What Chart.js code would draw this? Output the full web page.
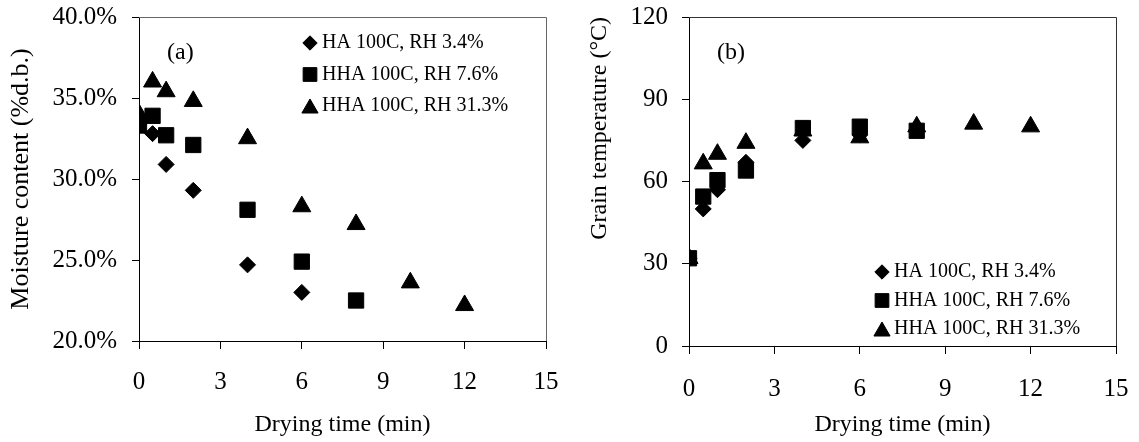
<!DOCTYPE html>
<html>
<head>
<meta charset="utf-8">
<script src="https://cdn.jsdelivr.net/npm/chart.js@4/dist/chart.umd.min.js"></script>
<style>
  body { margin: 0; background: #fff; }
  .panel { position: absolute; top: 0; height: 442px; }
  #boxA { left: 0; width: 560px; }
  #boxB { left: 560px; width: 579px; }
</style>
</head>
<body>
<div class="panel" id="boxA"><canvas id="moistureChart"></canvas></div>
<div class="panel" id="boxB"><canvas id="tempChart"></canvas></div>
<script>
// drying time (min) for each treatment
const timeHA = [0, 0.5, 1, 2, 4, 6];
const timeHHA76 = [0, 0.5, 1, 2, 4, 6, 8];
const timeHHA313 = [0, 0.5, 1, 2, 4, 6, 8, 10, 12];

// (a) moisture content, % d.b.
const moistHA = [33.4, 32.8, 30.9, 29.3, 24.7, 23.0];
const moistHHA76 = [33.3, 33.9, 32.7, 32.1, 28.1, 24.9, 22.5];
const moistHHA313 = [34.0, 36.0, 35.4, 34.8, 32.5, 28.3, 27.2, 23.6, 22.2];

// (b) grain temperature, C
const tempHA = [32, 50, 57, 67, 75, 77];
const tempHHA76 = [32, 54.5, 60.5, 64, 79.5, 80, 78.5];
const tempHHA313 = [32, 66.5, 70, 74, 78.5, 76, 80, 81, 80];

const seriesNames = ['HA 100C, RH 3.4%', 'HHA 100C, RH 7.6%', 'HHA 100C, RH 31.3%'];
const xTicks = [0, 3, 6, 9, 12, 15];

const serif = '"Liberation Serif", "Times New Roman", serif';

function toPoints(xs, ys) {
  return xs.map((x, i) => ({ x: x, y: ys[i] }));
}

function makeDatasets(ha, hha76, hha313) {
  return [
    { label: seriesNames[0], data: toPoints(timeHA, ha), pointStyle: 'rectRot', pointRadius: 8, order: 1 },
    { label: seriesNames[1], data: toPoints(timeHHA76, hha76), pointStyle: 'rect', pointRadius: 10.8, order: 0 },
    { label: seriesNames[2], data: toPoints(timeHHA313, hha313), pointStyle: 'triangle', pointRadius: 10.4, order: 2 }
  ].map(ds => Object.assign(ds, {
    backgroundColor: '#000',
    borderColor: '#000',
    borderWidth: 1,
    showLine: false
  }));
}

// plot box, legend and panel letter
const extras = {
  id: 'extras',
  afterDraw(chart, args, opts) {
    const ctx = chart.ctx;
    const a = chart.chartArea;
    ctx.save();
    ctx.strokeStyle = opts.boxColor;
    ctx.lineWidth = 1;
    ctx.beginPath();
    ctx.moveTo(Math.round(a.left), Math.round(a.top) + 0.5);
    ctx.lineTo(Math.round(a.right) + 0.5, Math.round(a.top) + 0.5);
    ctx.lineTo(Math.round(a.right) + 0.5, Math.round(a.bottom));
    ctx.stroke();

    ctx.fillStyle = '#000';
    ctx.strokeStyle = '#000';
    ctx.textBaseline = 'middle';
    ctx.textAlign = 'left';
    ctx.font = '20px ' + serif;
    chart.data.datasets.forEach((ds, i) => {
      const y = opts.legendY + i * opts.rowGap;
      const r = ds.pointRadius * 0.9;
      const dy = ds.pointStyle === 'triangle' ? r / 4 : 0;
      Chart.helpers.drawPoint(ctx, { pointStyle: ds.pointStyle, radius: r, borderWidth: 1, rotation: 0 }, opts.legendX, y + dy);
      ctx.fillText(ds.label, opts.legendX + 12, y);
    });

    ctx.font = '24px ' + serif;
    ctx.fillText(opts.label, opts.labelX, opts.labelY);
    ctx.restore();
  }
};

function makeChart(canvasId, datasets, cfg) {
  return new Chart(document.getElementById(canvasId), {
    type: 'scatter',
    data: { datasets: datasets },
    plugins: [extras],
    options: {
      responsive: true,
      maintainAspectRatio: false,
      animation: false,
      events: [],
      layout: { padding: { top: 17, right: cfg.rightPad, left: 0, bottom: 0 } },
      plugins: {
        legend: { display: false },
        tooltip: { enabled: false },
        extras: cfg.extras
      },
      scales: {
        x: {
          type: 'linear',
          min: 0,
          max: 15,
          afterBuildTicks: scale => { scale.ticks = xTicks.map(v => ({ value: v })); },
          afterFit: scale => {
            scale.height = cfg.xHeight;
            scale.paddingLeft = 0;
            scale.paddingRight = 0;
          },
          grid: { drawOnChartArea: false, color: '#000', tickLength: 8 },
          border: { color: '#000', width: 1 },
          ticks: { color: '#000', padding: cfg.xTickPad, maxRotation: 0, font: { family: serif, size: 25 } },
          title: {
            display: true,
            text: 'Drying time (min)',
            color: '#000',
            font: { family: serif, size: 24 },
            padding: { top: 0, bottom: 3 }
          }
        },
        y: {
          min: cfg.yMin,
          max: cfg.yMax,
          afterFit: scale => {
            scale.width = cfg.yWidth;
            scale.paddingTop = 0;
            scale.paddingBottom = 0;
          },
          grid: { drawOnChartArea: false, color: '#000', tickLength: 7 },
          border: { color: '#000', width: 1 },
          ticks: {
            stepSize: cfg.yStep,
            color: '#000',
            padding: cfg.yTickPad,
            font: { family: serif, size: 25 },
            callback: cfg.yFormat
          },
          title: {
            display: true,
            text: cfg.yTitle,
            align: cfg.yTitleAlign,
            color: '#000',
            font: { family: serif, size: cfg.yTitleSize },
            padding: { top: cfg.yTitlePad, bottom: 0 }
          }
        }
      }
    }
  });
}

makeChart('moistureChart', makeDatasets(moistHA, moistHHA76, moistHHA313), {
  rightPad: 14,
  xHeight: 101,
  xTickPad: 18,
  yMin: 20, yMax: 40, yStep: 5,
  yWidth: 139,
  yTickPad: 15,
  yFormat: v => v.toFixed(1) + '%',
  yTitle: 'Moisture content (%d.b.)',
  yTitleAlign: 'center',
  yTitleSize: 26,
  yTitlePad: 6,
  extras: { boxColor: '#666', legendX: 310, legendY: 43, rowGap: 31.5, label: '(a)', labelX: 167, labelY: 53 }
});

makeChart('tempChart', makeDatasets(tempHA, tempHHA76, tempHHA313), {
  rightPad: 23,
  xHeight: 96,
  xTickPad: 20,
  yMin: 0, yMax: 120, yStep: 30,
  yWidth: 129,
  yTickPad: 14,
  yFormat: v => v,
  yTitle: 'Grain temperature (°C)',
  yTitleAlign: 'end',
  yTitleSize: 24,
  yTitlePad: 25,
  extras: { boxColor: '#333', legendX: 322, legendY: 272, rowGap: 28.5, label: '(b)', labelX: 157, labelY: 53 }
});
</script>
</body>
</html>
